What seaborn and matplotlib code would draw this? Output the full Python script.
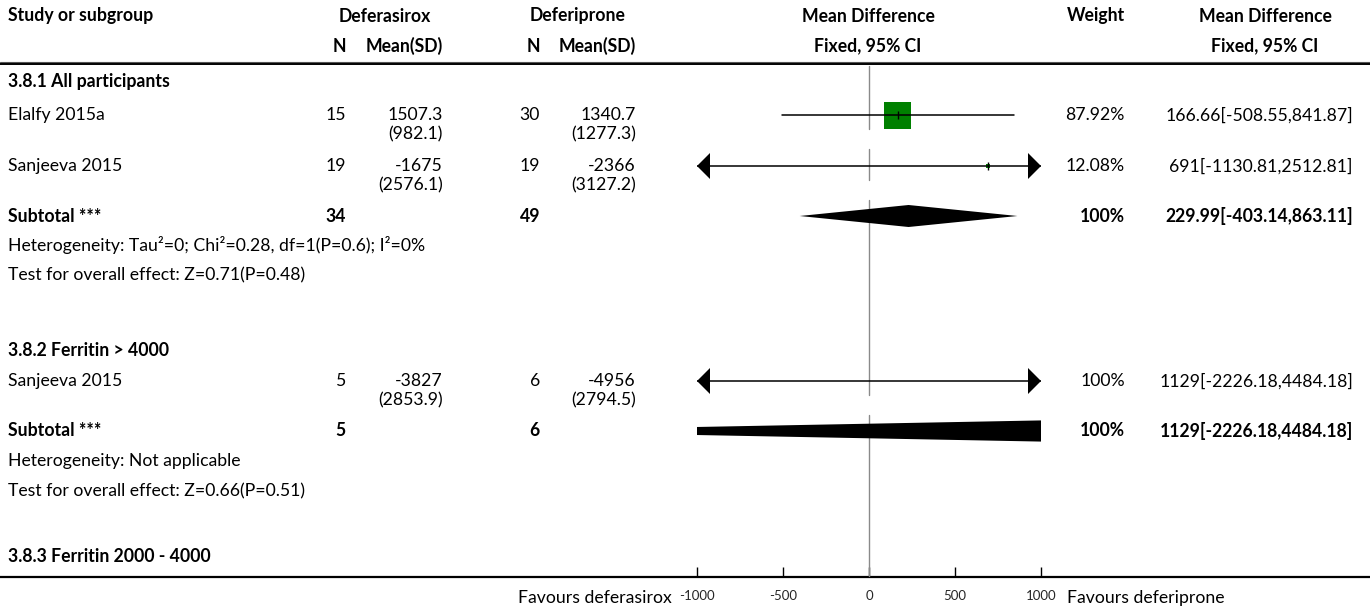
import numpy as np
import matplotlib
matplotlib.use("Agg")
import matplotlib.pyplot as plt
from matplotlib.patches import Polygon
import seaborn as sns

sns.set_theme(style="white")
plt.rcParams['font.family'] = ['Lato', 'DejaVu Sans']

# ---- data ----
groups = ['3.8.1 All participants', '3.8.2 Ferritin > 4000', '3.8.3 Ferritin 2000 - 4000']

study = ['Elalfy 2015a', 'Sanjeeva 2015', 'Sanjeeva 2015']
n_dfx = [15, 19, 5]
mean_dfx = ['1507.3', '-1675', '-3827']
sd_dfx = ['982.1', '2576.1', '2853.9']
n_dfp = [30, 19, 6]
mean_dfp = ['1340.7', '-2366', '-4956']
sd_dfp = ['1277.3', '3127.2', '2794.5']
md = [166.66, 691, 1129]
ci_lo = [-508.55, -1130.81, -2226.18]
ci_hi = [841.87, 2512.81, 4484.18]
weight = [87.92, 12.08, 100]

sub_n_dfx = [34, 5]
sub_n_dfp = [49, 6]
sub_md = [229.99, 1129]
sub_lo = [-403.14, -2226.18]
sub_hi = [863.11, 4484.18]
heterogeneity = ['Heterogeneity: Tau\u00b2=0; Chi\u00b2=0.28, df=1(P=0.6); I\u00b2=0%',
                 'Heterogeneity: Not applicable']
overall = ['Test for overall effect: Z=0.71(P=0.48)',
           'Test for overall effect: Z=0.66(P=0.51)']
ticks = [-1000, -500, 0, 500, 1000]
xlim = (-1000, 1000)

# ---- layout (pixel rows of the table) ----
W, H = 1370, 610
group_y = [82, 350, 557]
study_y = [115, 166, 381]
sub_y = [216, 431]
het_y = [245, 461]
test_y = [275, 491]
zero_segs = [(66, 129), (149, 180), (200, 395), (415, 577)]
X0, X1 = 697, 1041          # forest panel
Y0, Y1 = 62, 577
FS = 12.7

fig = plt.figure(figsize=(W / 100, H / 100), dpi=100)
bg = fig.add_axes([0, 0, 1, 1])
bg.set_xlim(0, W)
bg.set_ylim(H, 0)
bg.axis('off')

fa = fig.add_axes([X0 / W, 1 - Y1 / H, (X1 - X0) / W, (Y1 - Y0) / H])
fa.set_xlim(*xlim)
fa.set_ylim(Y1, Y0)
fa.patch.set_alpha(0)
for s in fa.spines.values():
    s.set_visible(False)


def txt(x, y, s, ha='left', bold=False, size=FS):
    bg.text(x, y, s, ha=ha, va='center', fontsize=size,
            fontweight='bold' if bold else 'normal', color='black')


# header
txt(8, 16, 'Study or subgroup', bold=True)
txt(385, 16, 'Deferasirox', ha='center', bold=True)
txt(578, 16, 'Deferiprone', ha='center', bold=True)
txt(346, 46, 'N', ha='right', bold=True)
txt(443, 46, 'Mean(SD)', ha='right', bold=True)
txt(540, 46, 'N', ha='right', bold=True)
txt(636, 46, 'Mean(SD)', ha='right', bold=True)
txt(868, 16, 'Mean Difference', ha='center', bold=True)
txt(868, 46, 'Fixed, 95% CI', ha='center', bold=True)
txt(1125, 16, 'Weight', ha='right', bold=True)
txt(1265, 16, 'Mean Difference', ha='center', bold=True)
txt(1265, 46, 'Fixed, 95% CI', ha='center', bold=True)
bg.plot([0, W], [61.5, 61.5], color='#555555', lw=0.8)
bg.plot([0, W], [64, 64], color='black', lw=1.4)

# group headers
for g, y in zip(groups, group_y):
    txt(8, y, g, bold=True)


def ci_text(m, lo, hi):
    return f'{m:g}[{lo:g},{hi:g}]'


# zero line (broken at the two-line cells)
for a, b in zero_segs:
    fa.plot([0, 0], [a, b], color='#8a8a8a', lw=1)

dx = 13 * (xlim[1] - xlim[0]) / (X1 - X0)
ah = 13

# study rows
for i, y in enumerate(study_y):
    txt(8, y, study[i])
    txt(346, y, str(n_dfx[i]), ha='right')
    txt(443, y, mean_dfx[i], ha='right')
    txt(443, y + 19, f'({sd_dfx[i]})', ha='right')
    txt(540, y, str(n_dfp[i]), ha='right')
    txt(636, y, mean_dfp[i], ha='right')
    txt(636, y + 19, f'({sd_dfp[i]})', ha='right')
    txt(1125, y, f'{weight[i]:g}%', ha='right')
    txt(1353, y, ci_text(md[i], ci_lo[i], ci_hi[i]), ha='right')

    lo = max(ci_lo[i], xlim[0])
    hi = min(ci_hi[i], xlim[1])
    fa.plot([lo, hi], [y, y], color='black', lw=1.1, zorder=4)
    if ci_lo[i] < xlim[0]:
        fa.add_patch(Polygon([(xlim[0], y), (xlim[0] + dx, y - ah), (xlim[0] + dx, y + ah)],
                             closed=True, color='black', lw=0, zorder=5))
    if ci_hi[i] > xlim[1]:
        fa.add_patch(Polygon([(xlim[1], y), (xlim[1] - dx, y - ah), (xlim[1] - dx, y + ah)],
                             closed=True, color='black', lw=0, zorder=5))

# weighted squares (side proportional to weight)
side_px = np.array(weight) / max(weight[:2]) * 27
sns.scatterplot(x=md, y=study_y, marker='s', s=(side_px * 0.72) ** 2,
                color='#008000', linewidth=0, ax=fa, legend=False, zorder=3)
fa.plot(md, study_y, linestyle='none', marker='|', ms=6, mew=1,
        color='black', zorder=6)

# subtotals
for j, y in enumerate(sub_y):
    txt(8, y, 'Subtotal ***', bold=True)
    txt(346, y, str(sub_n_dfx[j]), ha='right', bold=True)
    txt(540, y, str(sub_n_dfp[j]), ha='right', bold=True)
    txt(1125, y, '100%', ha='right', bold=True)
    txt(1353, y, ci_text(sub_md[j], sub_lo[j], sub_hi[j]), ha='right', bold=True)
    fa.add_patch(Polygon([(sub_lo[j], y), (sub_md[j], y - 11), (sub_hi[j], y),
                          (sub_md[j], y + 11)], closed=True, color='black', lw=0, zorder=5))
    txt(8, het_y[j], heterogeneity[j])
    txt(8, test_y[j], overall[j])

# bottom axis
bg.plot([0, W], [Y1, Y1], color='black', lw=1.6)
fa.set_xticks(ticks)
fa.set_xticklabels([f'{t}' for t in ticks])
fa.set_yticks([])
fa.tick_params(axis='x', direction='in', length=7, width=1, color='black',
               labelsize=9.5, pad=9, bottom=True)
txt(672, 598, 'Favours deferasirox', ha='right')
txt(1067, 598, 'Favours deferiprone')

fig.savefig('out.png', dpi=100)
